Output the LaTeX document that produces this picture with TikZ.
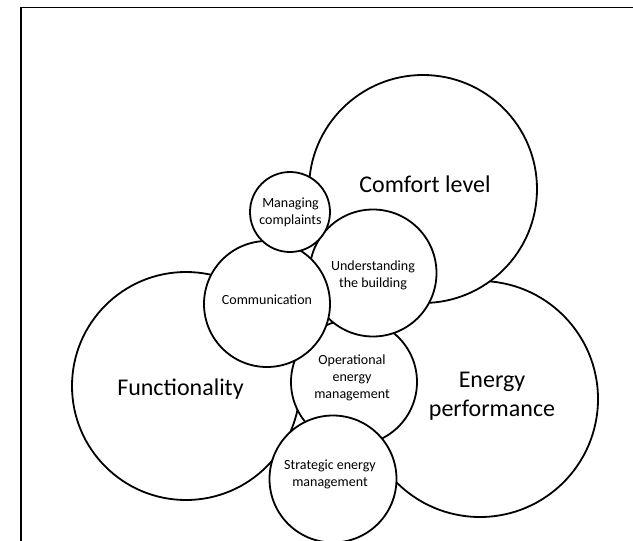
\documentclass[tikz,border=0pt]{standalone}
\usepackage{fontspec}
\setmainfont{Carlito}
\usetikzlibrary{positioning}

\tikzset{
  bubble/.style={circle, draw=black, fill=white, line width=1.8pt, inner sep=0pt},
  bigtext/.style={font=\fontsize{24}{29}\selectfont, align=center},
  smalltext/.style={font=\fontsize{14}{17}\selectfont, align=center}
}

\begin{document}
\begin{tikzpicture}[x=1pt, y=-1pt]
  \useasboundingbox (0,0) rectangle (633,541);

  % frame, only left and top edge fall inside the page
  \draw[line width=1.5pt] (21,7.5) rectangle (650,560);

  % circles, lowest first
  \node[bubble, minimum size=236pt] (energy) at (480,399) {};
  \node[bubble, minimum size=228pt] (comfort) at (423,189) {};
  \node[bubble, minimum size=228pt] (function) at (186,386) {};
  \node[bubble, minimum size=126pt] (operational) at (354,382) {};
  \node[bubble, minimum size=127pt] (understanding) at (373,273) {};
  \node[bubble, minimum size=126pt] (communication) at (267,304) {};
  \node[bubble, minimum size=80pt] (complaints) at (290,212) {};
  \node[bubble, minimum size=127pt] (strategic) at (333,479) {};

  % labels
  \node[bigtext] (comfort-txt) at ([shift={(2,-5)}]comfort.center) {Comfort level};
  \node[bigtext] (function-txt) at ([shift={(-5.5,3)}]function.center) {Functionality};
  \node[bigtext] (energy-txt) at ([shift={(12,-3)}]energy.center) {Energy\\performance};

  \node[smalltext] (complaints-txt) at ([shift={(0.5,0)}]complaints.center) {Managing\\complaints};
  \node[smalltext] (understanding-txt) at ([shift={(0,2)}]understanding.center) {Understanding\\the building};
  \node[smalltext] (communication-txt) at ([shift={(0,-4)}]communication.center) {Communication};
  \node[smalltext] (operational-txt) at ([shift={(-2,-4)}]operational.center) {Operational\\energy\\management};
  \node[smalltext] (strategic-txt) at ([shift={(-3,-5)}]strategic.center) {Strategic energy\\management};
\end{tikzpicture}
\end{document}
